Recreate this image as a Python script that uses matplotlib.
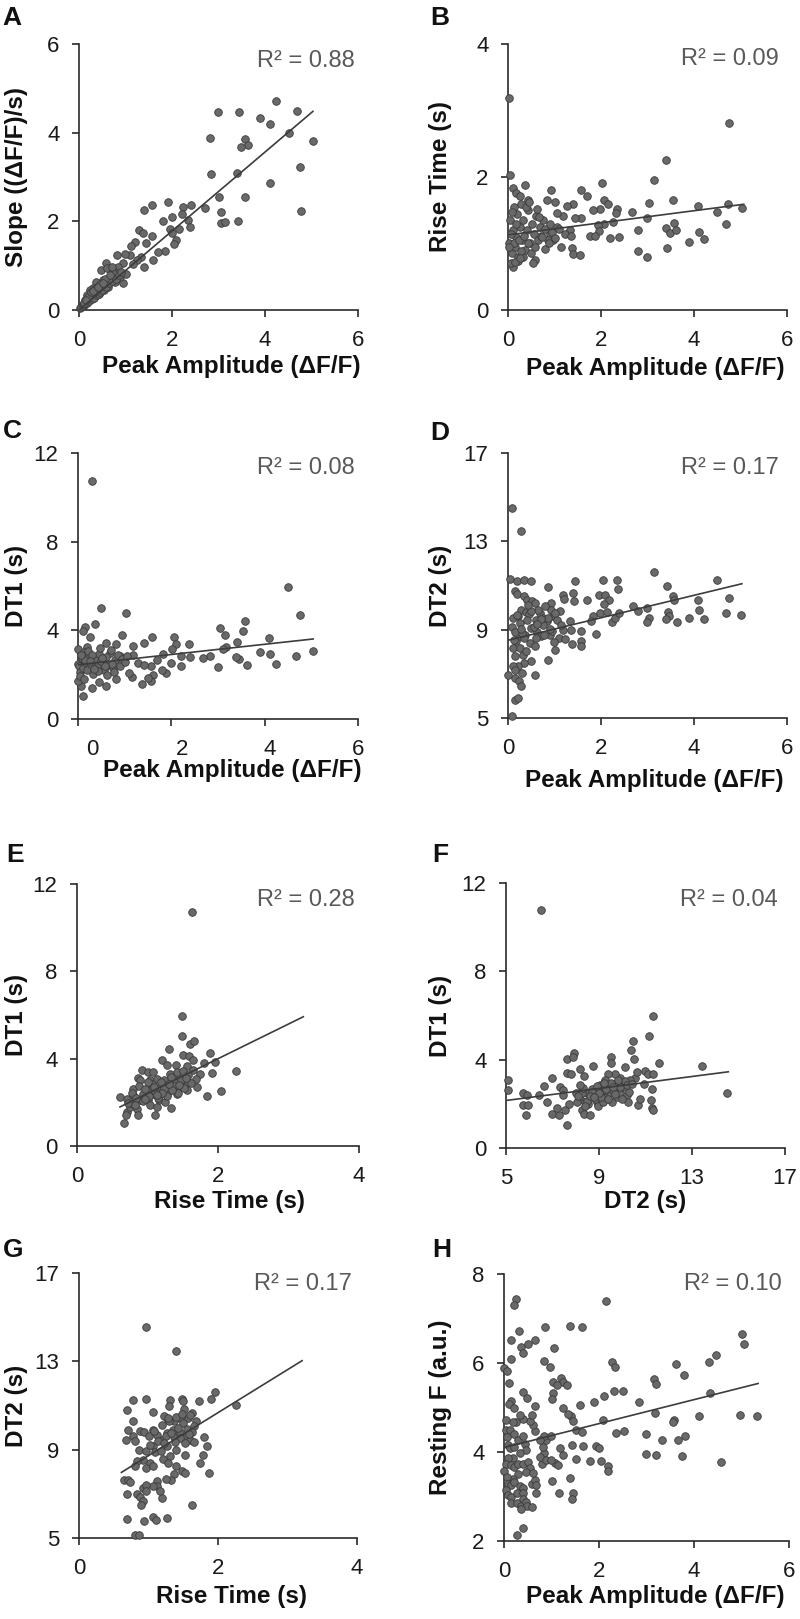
import matplotlib
matplotlib.use("Agg")
import matplotlib.pyplot as plt

plt.rcParams["font.family"] = ["Liberation Sans", "DejaVu Sans"]

# ---------------- data ----------------

# A: slope vs peak amplitude
a_amp = [2.99, 3.44, 4.23, 4.69, 3.90, 4.11, 4.51, 5.03, 2.81, 3.58,
         3.63, 3.48, 2.83, 3.40, 4.75, 4.10, 3.01, 3.56, 3.05, 3.05,
         3.15, 3.41, 4.77, 2.70, 2.40, 2.23, 1.91, 1.58, 1.39, 1.99,
         1.81, 2.22, 2.34, 2.38, 2.16, 1.95, 2.01, 2.09, 2.04, 1.84,
         1.70, 1.59, 1.58, 1.30, 1.37, 1.45, 1.20, 1.12, 1.34, 1.40,
         1.25, 1.16, 1.09, 0.98, 0.82, 0.95, 0.84, 1.02, 0.95, 0.59,
         0.48, 0.60, 0.73, 0.84, 0.66, 0.52, 0.44, 0.37, 0.30, 0.23,
         0.17, 0.12, 0.07, 0.03, 0.34, 0.44, 0.27, 0.16, 0.53, 0.62,
         0.77, 0.89, 0.79, 0.70,
         0.05, 0.08, 0.10, 0.13, 0.15, 0.18, 0.20, 0.22, 0.25, 0.28,
         0.30, 0.32, 0.35, 0.38, 0.40, 0.42, 0.45, 0.48, 0.50, 0.55,
         0.58, 0.62, 0.65, 0.68, 0.72, 0.75, 0.80, 0.85, 0.90,
         0.20, 0.26, 0.36, 0.46, 0.56, 0.66, 0.10, 0.14, 0.31, 0.41, 0.51]
a_slope = [4.47, 4.47, 4.71, 4.48, 4.33, 4.19, 3.99, 3.82, 3.88, 3.86,
           3.73, 3.67, 3.07, 3.09, 3.22, 2.86, 2.56, 2.54, 2.20, 1.96,
           1.99, 2.01, 2.24, 2.30, 2.36, 2.32, 2.43, 2.37, 2.26, 2.09,
           2.01, 2.16, 2.03, 1.88, 1.82, 1.82, 1.73, 1.58, 1.48, 1.34,
           1.30, 1.13, 1.68, 1.81, 1.73, 1.52, 1.54, 1.45, 1.20, 0.96,
           1.13, 1.04, 1.24, 1.27, 1.24, 1.05, 0.98, 0.81, 0.60, 1.07,
           0.90, 0.94, 0.87, 0.75, 0.72, 0.68, 0.56, 0.64, 0.49, 0.44,
           0.34, 0.23, 0.11, 0.04, 0.34, 0.38, 0.26, 0.19, 0.45, 0.53,
           0.64, 0.75, 0.83, 0.98,
           0.06, 0.08, 0.12, 0.14, 0.17, 0.16, 0.22, 0.20, 0.27, 0.24,
           0.32, 0.28, 0.38, 0.33, 0.45, 0.37, 0.40, 0.50, 0.46, 0.58,
           0.52, 0.66, 0.60, 0.74, 0.66, 0.82, 0.70, 0.80, 0.85,
           0.30, 0.40, 0.50, 0.58, 0.70, 0.80, 0.15, 0.22, 0.42, 0.52, 0.62]
a_fit_x = [0.0, 5.03]
a_fit_y = [0.0, 4.48]

# B: rise time vs peak amplitude
b_amp = [0.02, 0.04, 4.76, 3.40, 3.14, 2.03, 1.58, 1.70, 0.93, 0.36,
         0.11, 0.18, 0.25, 0.43, 0.83, 1.00, 1.40, 1.26, 2.06, 2.15,
         1.98, 1.83, 2.35, 2.32, 2.67, 3.03, 3.54, 4.09, 4.49, 4.74,
         5.03, 2.99, 3.57, 3.39, 3.48, 3.62, 2.80, 4.10, 4.21, 3.89,
         4.68, 3.43, 2.80, 2.98, 2.26, 2.06, 1.94, 1.96, 1.77, 1.88,
         2.20, 2.38, 1.58, 1.44, 1.19, 1.06, 1.33, 1.22, 1.35, 1.37,
         1.39, 1.55, 1.13, 0.97, 0.90, 0.80, 0.57, 0.54, 0.11, 0.07,
         0.22, 0.32,
         0.03, 0.05, 0.08, 0.10, 0.12, 0.15, 0.18, 0.20, 0.22, 0.25,
         0.28, 0.30, 0.33, 0.36, 0.40, 0.44, 0.48, 0.52, 0.56, 0.60,
         0.64, 0.68, 0.72, 0.76, 0.80, 0.85, 0.90, 0.95, 1.00, 1.05,
         0.06, 0.12, 0.17, 0.23, 0.28, 0.34, 0.42, 0.50, 0.58, 0.66,
         0.14, 0.26, 0.38, 0.46, 0.62, 0.74, 0.88, 1.10, 0.02, 0.09]
b_rise = [3.19, 2.03, 2.81, 2.25, 1.96, 1.91, 1.81, 1.71, 1.80, 1.88,
          1.84, 1.76, 1.71, 1.66, 1.66, 1.63, 1.60, 1.56, 1.66, 1.60,
          1.52, 1.50, 1.52, 1.46, 1.48, 1.61, 1.65, 1.56, 1.48, 1.60,
          1.53, 1.38, 1.31, 1.23, 1.16, 1.20, 1.21, 1.18, 1.07, 1.03,
          1.30, 0.93, 0.89, 0.80, 1.33, 1.30, 1.28, 1.19, 1.11, 1.11,
          1.09, 1.10, 1.38, 1.38, 1.41, 1.46, 1.20, 1.15, 1.11, 0.93,
          0.84, 0.83, 0.94, 1.05, 1.15, 0.91, 0.75, 0.70, 0.65, 0.70,
          0.73, 0.80,
          1.00, 1.35, 0.85, 1.20, 1.55, 0.95, 1.10, 1.45, 0.80, 1.25,
          1.60, 1.05, 1.35, 0.90, 1.20, 1.50, 1.00, 1.30, 1.15, 1.42,
          1.05, 1.25, 1.12, 1.35, 1.22, 1.05, 1.30, 1.18, 1.08, 1.25,
          1.15, 1.00, 1.30, 1.05, 0.88, 1.12, 1.00, 0.85, 0.95, 1.40,
          0.72, 0.78, 1.55, 1.62, 1.52, 1.10, 1.00, 1.22, 0.95, 1.48]
b_fit_x = [0.0, 5.07]
b_fit_y = [1.13, 1.59]

# C: DT1 vs peak amplitude
c_amp = [0.29, 4.50, 4.75, 0.50, 1.02, 0.37, 0.14, 0.11, 3.57, 3.54,
         3.04, 3.14, 0.95, 1.59, 2.06, 4.09, 0.25, 0.61, 1.41, 2.37,
         3.41, 2.09, 2.01, 3.18, 3.11, 1.18, 0.82, 0.01, 0.19, 3.89,
         4.11, 5.04, 4.68, 3.46, 3.39, 2.82, 2.68, 2.41, 2.21, 1.82,
         2.00, 1.70, 2.21, 3.00, 3.62, 4.24, 1.89, 1.79, 1.57, 1.61,
         1.57, 1.38, 1.49, 1.16, 1.09, 0.81, 0.59, 0.46, 0.29, 0.11,
         0.07, 0.01, 0.01, 1.29, 1.41, 1.18, 0.68, 0.89,
         0.02, 0.05, 0.08, 0.10, 0.13, 0.16, 0.20, 0.24, 0.28, 0.32,
         0.36, 0.40, 0.45, 0.50, 0.55, 0.60, 0.65, 0.70, 0.75, 0.80,
         0.85, 0.90, 0.95, 1.00, 1.05, 0.04, 0.12, 0.22, 0.30, 0.42,
         0.52, 0.62, 0.72, 0.15, 0.35, 0.48, 0.58, 0.78, 0.06, 0.26]
c_dt1 = [10.72, 5.95, 4.71, 5.01, 4.78, 4.29, 4.14, 3.95, 4.41, 3.98,
         4.09, 3.80, 3.80, 3.68, 3.68, 3.65, 3.70, 3.43, 3.43, 3.38,
         3.46, 3.38, 3.16, 3.25, 3.16, 3.31, 3.38, 3.16, 3.25, 3.01,
         2.95, 3.05, 2.83, 2.71, 2.78, 2.86, 2.75, 2.80, 2.83, 2.95,
         2.53, 2.68, 2.38, 2.33, 2.45, 2.48, 2.08, 2.23, 2.41, 2.00,
         1.73, 1.58, 1.85, 1.88, 2.08, 1.80, 1.50, 1.65, 1.40, 1.05,
         1.50, 1.73, 2.50, 2.53, 2.45, 2.90, 2.98, 2.86,
         2.40, 2.10, 2.75, 2.30, 3.00, 2.55, 2.20, 2.85, 2.50, 2.05,
         2.70, 2.35, 2.95, 2.60, 2.20, 2.80, 2.45, 3.10, 2.30, 2.65,
         2.90, 2.40, 2.70, 2.55, 2.85, 1.95, 1.80, 3.05, 2.90, 2.15,
         2.75, 2.00, 2.50, 2.65, 2.25, 3.20, 2.40, 2.10, 2.90, 2.60]
c_fit_x = [0.0, 5.04]
c_fit_y = [2.45, 3.61]

# D: DT2 vs peak amplitude
d_amp = [0.09, 0.27, 0.04, 0.19, 0.34, 0.49, 0.14, 0.19, 0.34, 0.41,
         0.52, 0.57, 0.27, 0.38, 0.11, 0.22, 0.09, 0.86, 1.44, 1.39,
         1.42, 1.19, 1.20, 1.11, 0.93, 0.93, 0.97, 0.68, 0.75, 0.83,
         0.61, 0.50, 0.63, 0.72, 0.90, 1.10, 1.22, 1.19, 1.33, 1.36,
         1.58, 1.57, 1.38, 1.57, 1.90, 1.70, 1.82, 1.78, 1.98, 1.96,
         2.05, 2.08, 2.17, 2.06, 2.13, 2.23, 2.30, 2.39, 2.35, 2.37,
         2.68, 2.80, 2.99, 3.04, 2.99, 3.14, 3.41, 3.54, 3.57, 3.45,
         3.47, 3.40, 3.63, 3.89, 4.08, 4.11, 4.22, 4.49, 4.76, 4.68,
         5.01,
         0.11, 0.18, 0.25, 0.16, 0.32, 0.39, 0.50, 0.34, 0.22, 0.11,
         0.14, 0.31, 0.00, 0.16, 0.23, 0.29, 0.57, 0.85, 1.01, 0.14,
         0.22, 0.09, 0.47, 0.57, 0.36, 0.25,
         0.15, 0.25, 0.35, 0.45, 0.55, 0.65, 0.75, 0.85, 0.95, 1.05,
         0.20, 0.30, 0.40, 0.50, 0.60, 0.70, 0.80, 0.90, 1.00, 1.15,
         0.12, 0.28, 0.44, 0.62, 0.78, 0.98]
d_dt2 = [14.51, 13.45, 11.31, 11.19, 11.26, 11.19, 10.74, 10.63, 10.51, 10.36,
         10.28, 10.21, 9.91, 9.80, 9.53, 9.60, 9.12, 10.93, 11.19, 10.66,
         10.28, 10.58, 10.39, 9.83, 10.21, 9.91, 9.60, 9.75, 9.53, 9.38,
         9.42, 9.08, 8.89, 8.70, 8.77, 8.62, 8.58, 9.00, 9.38, 9.00,
         8.92, 8.50, 8.35, 8.28, 8.80, 10.36, 9.63, 9.38, 9.75, 10.55,
         11.26, 10.59, 10.33, 10.17, 9.81, 9.35, 9.53, 9.75, 11.23, 10.84,
         10.06, 9.83, 9.98, 9.53, 9.33, 11.60, 10.99, 10.51, 10.33, 9.78,
         9.63, 9.48, 9.33, 9.53, 10.36, 9.91, 9.50, 11.26, 10.43, 9.75,
         9.65,
         8.17, 8.47, 8.17, 7.79, 7.87, 8.02, 7.57, 7.49, 7.34, 7.34,
         7.19, 7.04, 6.96, 6.81, 6.66, 6.46, 6.96, 7.61, 8.06, 5.83,
         5.91, 5.11, 8.40, 8.25, 8.77, 8.70,
         8.90, 9.30, 8.60, 9.70, 9.10, 9.90, 9.20, 9.55, 8.95, 9.45,
         9.65, 8.85, 9.45, 9.85, 8.60, 9.50, 10.05, 9.05, 9.75, 9.20,
         8.55, 9.05, 10.10, 9.25, 8.75, 8.45]
d_fit_x = [0.0, 5.03]
d_fit_y = [8.52, 11.08]

# E: DT1 vs rise time
e_rise = [1.63, 1.49, 1.49, 1.60, 1.66, 1.31, 1.51, 1.59, 1.65, 1.88,
          1.96, 1.80, 2.26, 1.91, 1.84, 2.04, 1.20, 1.27, 1.40, 1.56,
          0.92, 1.01, 1.08, 0.86, 0.90, 1.75, 1.70, 1.34, 1.10, 0.66,
          0.61, 0.71, 0.79, 0.80, 0.71, 0.70, 0.85, 0.87, 0.75, 1.01,
          1.08, 1.18, 1.27, 1.37, 1.46, 1.53, 1.56, 1.42, 1.27, 1.16,
          1.04, 0.99, 1.04, 1.13, 1.23, 1.32, 1.42, 1.50, 1.65, 1.69,
          1.58, 1.37, 1.46, 1.25, 0.94, 0.90, 1.13, 0.80,
          0.72, 0.78, 0.84, 0.88, 0.93, 0.97, 1.02, 1.06, 1.11, 1.15,
          1.19, 1.23, 1.28, 1.33, 1.38, 1.43, 1.48, 1.52, 1.57, 1.62,
          0.82, 0.96, 1.09, 1.21, 1.35, 1.45, 1.55, 1.00, 1.14, 1.30]
e_dt1 = [10.73, 5.95, 5.03, 4.69, 4.82, 4.42, 4.16, 4.11, 3.96, 4.28,
         3.85, 3.82, 3.44, 3.36, 2.29, 2.51, 3.96, 3.70, 3.70, 3.65,
         3.50, 3.39, 3.39, 3.12, 3.01, 3.29, 2.68, 1.76, 1.44, 1.06,
         2.25, 2.17, 2.63, 2.32, 1.56, 1.41, 1.71, 1.44, 1.79, 2.09,
         2.40, 2.68, 2.86, 3.01, 3.17, 2.86, 2.55, 2.40, 2.40, 2.09,
         1.87, 2.55, 3.01, 3.09, 3.01, 3.32, 3.39, 3.44, 3.50, 3.09,
         2.94, 2.71, 2.71, 2.02, 2.40, 2.09, 1.79, 1.94,
         1.95, 2.45, 2.20, 2.75, 2.05, 2.60, 2.30, 2.85, 2.50, 2.20,
         2.95, 2.60, 2.30, 3.15, 2.75, 2.45, 3.00, 2.65, 3.25, 2.90,
         1.90, 2.15, 2.70, 2.45, 2.55, 2.80, 3.10, 2.95, 2.35, 2.85]
e_fit_x = [0.61, 3.21]
e_fit_y = [1.79, 5.92]

# F: DT1 vs DT2
f_dt2 = [6.49, 11.31, 11.16, 10.48, 10.36, 10.52, 11.59, 13.42, 14.52, 7.61,
         7.93, 7.90, 8.76, 9.50, 9.50, 8.18, 8.37, 7.61, 7.78, 5.10,
         5.10, 6.63, 6.96, 6.43, 5.72, 5.89, 5.75, 5.96, 5.85, 6.78,
         6.96, 7.29, 7.64, 7.18, 7.54, 7.32, 7.44, 7.46, 7.71, 8.25,
         8.18, 8.28, 8.36, 8.61, 8.54, 8.76, 8.90, 8.97, 9.16, 9.33,
         9.47, 9.62, 9.55, 9.76, 9.90, 10.05, 10.19, 10.23, 10.66, 10.76,
         10.93, 10.98, 11.12, 11.31, 11.22, 11.26, 11.31, 11.29, 10.55, 10.63,
         10.33, 10.11, 9.90, 9.69, 9.40, 9.26, 9.04, 8.68, 8.47, 8.01,
         8.04, 8.40, 8.83, 8.25, 9.09, 9.26, 9.62, 9.83,
         8.10, 8.30, 8.50, 8.70, 8.90, 9.10, 9.30, 9.50, 9.70, 9.90,
         10.10, 10.30, 8.20, 8.60, 9.00, 9.40, 9.80, 10.20, 8.40, 8.80,
         9.20, 9.60, 10.00, 10.40]
f_dt1 = [10.79, 5.98, 5.07, 4.86, 4.46, 4.01, 3.86, 3.72, 2.51, 4.01,
         4.31, 4.13, 3.72, 4.13, 3.83, 3.56, 3.28, 3.40, 3.34, 3.10,
         2.62, 2.83, 3.19, 2.39, 2.47, 2.39, 1.94, 1.94, 1.48, 2.09,
         1.53, 1.48, 1.03, 1.79, 1.74, 2.77, 2.62, 2.39, 1.98, 2.62,
         2.24, 1.71, 1.56, 1.48, 2.01, 2.47, 2.09, 1.89, 2.09, 2.31,
         2.47, 2.62, 2.09, 2.31, 2.50, 2.77, 2.39, 2.09, 1.94, 2.24,
         2.89, 3.48, 3.34, 3.34, 2.19, 1.83, 1.74, 2.69, 3.15, 3.45,
         3.07, 3.68, 3.15, 3.37, 3.37, 3.10, 2.84, 2.69, 2.47, 2.47,
         2.09, 2.09, 2.24, 2.47, 2.54, 2.62, 2.92, 2.84,
         2.35, 2.70, 2.15, 2.55, 2.80, 2.30, 2.65, 2.95, 2.45, 2.75,
         3.05, 2.55, 2.85, 2.35, 2.50, 2.20, 3.10, 2.85, 1.90, 2.30,
         2.95, 2.75, 2.20, 2.90]
f_fit_x = [5.06, 14.56]
f_fit_y = [2.16, 3.45]

# G: DT2 vs rise time
g_rise = [0.97, 1.40, 1.95, 1.90, 2.26, 1.72, 0.77, 0.96, 1.31, 1.48,
          1.49, 1.30, 1.51, 0.69, 1.06, 0.77, 1.22, 1.28, 1.36, 1.45,
          1.57, 1.69, 1.62, 0.88, 0.94, 0.78, 0.68, 0.80, 1.07, 1.00,
          1.12, 1.19, 1.26, 1.36, 1.45, 1.55, 1.60, 1.65, 1.80, 1.84,
          1.79, 1.74, 1.87, 1.53, 1.40, 1.26, 1.31, 1.21, 1.28, 1.40,
          1.48, 1.52, 1.36, 1.33, 1.25, 1.12, 1.12, 1.07, 1.16, 1.20,
          1.02, 0.97, 1.07, 0.92, 0.83, 0.80, 0.87, 0.97, 1.07, 0.65,
          0.71, 0.74, 0.69, 0.84, 0.92, 0.97, 0.96, 0.88, 0.92, 0.89,
          0.69, 0.93, 1.06, 1.11, 1.26, 1.63, 0.80, 0.87, 0.71,
          1.02, 1.08, 1.14, 1.20, 1.25, 1.30, 1.35, 1.40, 1.45, 1.50,
          1.55, 1.60, 1.65, 1.10, 1.22, 1.33, 1.43, 1.53, 1.63, 1.18,
          1.28, 1.38, 1.48, 1.58]
g_dt2 = [14.54, 13.48, 11.61, 11.31, 11.01, 11.19, 11.26, 11.31, 11.26, 11.31,
         11.19, 10.96, 10.84, 10.78, 10.72, 10.28, 10.51, 10.36, 10.28, 10.43,
         10.43, 10.28, 10.66, 9.86, 9.78, 9.63, 9.45, 9.38, 9.90, 9.60,
         9.68, 9.45, 9.75, 9.57, 9.75, 9.60, 9.45, 9.35, 9.57, 9.18,
         8.77, 8.40, 7.94, 8.77, 9.00, 9.15, 8.73, 8.58, 8.40, 8.25,
         8.02, 7.94, 7.91, 7.64, 7.67, 7.57, 7.34, 7.37, 7.11, 6.81,
         8.40, 8.17, 8.25, 8.55, 8.47, 8.25, 9.00, 8.92, 9.15, 7.64,
         7.64, 7.52, 6.99, 7.01, 7.26, 7.41, 7.11, 6.84, 6.66, 6.51,
         5.88, 5.76, 5.95, 5.83, 5.91, 6.51, 5.12, 5.12, 9.90,
         9.20, 9.85, 9.40, 10.10, 9.60, 10.30, 9.90, 10.50, 9.55, 10.20,
         9.95, 10.55, 10.05, 8.90, 9.30, 9.75, 10.00, 9.30, 9.80, 8.95,
         10.45, 9.35, 10.60, 9.70]
g_fit_x = [0.61, 3.21]
g_fit_y = [7.97, 13.03]

# H: resting F vs peak amplitude
h_amp = [0.26, 0.22, 2.15, 1.38, 1.65, 0.87, 0.31, 0.14, 0.36, 0.51,
         0.65, 0.41, 1.05, 0.14, 0.84, 0.96, 0.00, 0.07, 0.11, 2.28,
         2.33, 5.02, 5.05, 4.47, 4.32, 3.63, 3.79, 3.15, 3.21, 1.03,
         1.19, 1.25, 1.32, 1.12, 1.04, 1.01, 0.39, 0.49, 0.65, 0.15,
         0.11, 0.22, 1.24, 1.61, 1.89, 2.10, 2.32, 2.50, 2.84, 4.34,
         4.96, 5.33, 4.11, 3.17, 3.57, 3.56, 2.09, 1.42, 1.35, 1.45,
         1.52, 1.65, 2.36, 2.52, 2.98, 3.82, 3.66, 3.33, 2.98, 3.21,
         3.74, 4.57, 1.43, 1.66, 1.93, 2.01, 2.04, 1.80, 1.52, 1.24,
         1.17, 1.07, 1.14, 2.19, 2.19, 1.38, 1.00, 1.16, 1.45, 1.43,
         0.84, 0.81, 0.75, 0.89, 0.99, 0.82, 0.89, 0.84, 0.99, 0.75,
         0.65, 0.60, 0.54, 0.58, 0.40, 0.33, 0.26, 0.19, 0.05, 0.05,
         0.12, 0.06, 0.08, 0.12, 0.22, 0.29, 0.22, 0.40, 0.44, 0.46,
         0.34, 0.19, 0.08, 0.04, 0.01, 0.15, 0.22, 0.29, 0.39, 0.51,
         0.55, 0.47, 0.29, 0.19, 0.06, 0.08, 0.15, 0.22, 0.33, 0.41,
         0.58, 0.65, 0.61, 0.68, 0.67, 0.05, 0.08, 0.15, 0.27, 0.39,
         0.40, 0.14, 0.27, 0.36, 0.46, 0.48, 0.58, 0.36, 0.40, 0.28]
h_rest = [7.44, 7.31, 7.39, 6.84, 6.80, 6.80, 6.72, 6.52, 6.37, 6.43,
          6.52, 6.22, 6.34, 6.10, 6.04, 5.92, 5.88, 5.82, 5.54, 6.02,
          5.92, 6.65, 6.43, 6.19, 6.02, 5.98, 5.72, 5.64, 5.52, 5.57,
          5.66, 5.57, 5.51, 5.50, 5.32, 5.20, 5.34, 5.22, 5.03, 5.15,
          5.08, 5.00, 5.00, 5.05, 5.13, 5.26, 5.38, 5.38, 5.12, 5.32,
          4.84, 4.80, 4.81, 4.87, 4.73, 4.68, 4.73, 4.81, 4.85, 4.70,
          4.49, 4.44, 4.43, 4.47, 4.40, 4.37, 4.27, 4.28, 3.95, 3.94,
          3.91, 3.78, 4.15, 4.13, 4.13, 4.08, 3.79, 3.79, 3.85, 3.93,
          4.08, 3.76, 3.70, 3.69, 3.58, 3.42, 3.35, 3.08, 3.08, 2.95,
          3.98, 3.74, 3.89, 3.81, 3.81, 4.11, 4.26, 4.37, 4.37, 4.26,
          4.48, 4.60, 4.70, 4.83, 4.75, 4.83, 4.68, 4.68, 4.72, 4.49,
          4.49, 4.34, 4.15, 4.08, 4.41, 4.26, 4.11, 4.37, 4.19, 4.05,
          3.97, 3.87, 3.87, 3.74, 3.58, 3.70, 3.67, 3.74, 3.73, 3.78,
          3.65, 3.55, 3.51, 3.40, 3.44, 3.27, 3.25, 3.33, 3.23, 3.20,
          3.29, 3.37, 3.52, 3.26, 3.07, 3.14, 3.03, 2.99, 3.07, 3.08,
          2.95, 2.86, 2.86, 2.78, 2.88, 2.78, 2.77, 2.71, 2.30, 2.14]
h_fit_x = [0.0, 5.35]
h_fit_y = [4.10, 5.54]

r2_labels = ["0.88", "0.09", "0.08", "0.17", "0.28", "0.04", "0.17", "0.10"]
amp_label = "Peak Amplitude (\u0394F/F)"

# ---------------- layout ----------------
W, H = 800, 1619

# letter, x, y, fit x, fit y, xlabel, ylabel, xlim, xticks, ylim, yticks,
# axes box in pixels (left, top, right, bottom), xlabel anchor, R2 anchor,
# letter anchor in pixels (left, baseline)
paneles = [
    ("A", a_amp, a_slope, a_fit_x, a_fit_y, amp_label, "Slope ((\u0394F/F)/s)",
     (0, 6), [0, 2, 4, 6], (0, 6), [0, 2, 4, 6], (79, 44, 358, 310),
     (0.545, -0.169), (0.99, 0.915), (2, 25)),
    ("B", b_amp, b_rise, b_fit_x, b_fit_y, amp_label, "Rise Time (s)",
     (0, 6), [0, 2, 4, 6], (0, 4), [0, 2, 4], (508, 44, 787, 310),
     (0.527, -0.177), (0.97, 0.92), (430, 25)),
    ("C", c_amp, c_dt1, c_fit_x, c_fit_y, amp_label, "DT1 (s)",
     (0, 6), [0, 2, 4, 6], (0, 12), [0, 4, 8, 12], (78, 453, 358, 719),
     (0.55, -0.15), (0.99, 0.92), (3, 438)),
    ("D", d_amp, d_dt2, d_fit_x, d_fit_y, amp_label, "DT2 (s)",
     (0, 6), [0, 2, 4, 6], (5, 17), [5, 9, 13, 17], (508, 453, 787, 718),
     (0.524, -0.192), (0.97, 0.92), (430, 440)),
    ("E", e_rise, e_dt1, e_fit_x, e_fit_y, "Rise Time (s)", "DT1 (s)",
     (0, 4), [0, 2, 4], (0, 12), [0, 4, 8, 12], (77, 884, 359, 1146),
     (0.54, -0.168), (0.985, 0.915), (6, 862)),
    ("F", f_dt2, f_dt1, f_fit_x, f_fit_y, "DT2 (s)", "DT1 (s)",
     (5, 17), [5, 9, 13, 17], (0, 12), [0, 4, 8, 12], (506, 883, 785, 1148),
     (0.50, -0.158), (0.975, 0.915), (432, 862)),
    ("G", g_rise, g_dt2, g_fit_x, g_fit_y, "Rise Time (s)", "DT2 (s)",
     (0, 4), [0, 2, 4], (5, 17), [5, 9, 13, 17], (79, 1273, 357, 1538),
     (0.55, -0.177), (0.98, 0.935), (3, 1257)),
    ("H", h_amp, h_rest, h_fit_x, h_fit_y, amp_label, "Resting F (a.u.)",
     (0, 6), [0, 2, 4, 6], (2, 8), [2, 4, 6, 8], (504, 1274, 789, 1541),
     (0.53, -0.165), (0.975, 0.94), (432, 1257)),
]

# panel C has its x tick numbers drawn a little right of the ticks (pixels)
c_label_shift = [14, 11, 5, 0]

AXIS_COLOR = "#2a2a2a"
POINT_FACE = "#696969"
POINT_EDGE = "#3a3a3a"
TICK_SIZE = 16
LABEL_SIZE = 17.5
TICK_LEN = 5
TICK_PAD_X = 9.5

fig = plt.figure(figsize=(W / 100, H / 100), dpi=100)
fig.patch.set_facecolor("white")

for i, (letra, xs, ys, fx, fy, xlab, ylab, xlim, xticks, ylim, yticks,
        caja, xlab_pos, r2_pos, letra_pos) in enumerate(paneles):
    left, top, right, bottom = caja
    ancho = right - left
    ax = fig.add_axes([left / W, 1 - bottom / H, ancho / W, (bottom - top) / H])

    ax.scatter(xs, ys, s=30, facecolor=POINT_FACE, edgecolor=POINT_EDGE,
               linewidth=0.6, zorder=3, clip_on=False)
    ax.plot(fx, fy, color="#3c3c3c", lw=1.2, zorder=4)

    ax.set_xlim(*xlim)
    ax.set_ylim(*ylim)
    ax.set_xticks(xticks)
    ax.set_yticks(yticks)

    for lado in ("top", "right"):
        ax.spines[lado].set_visible(False)
    for lado in ("left", "bottom"):
        ax.spines[lado].set_color(AXIS_COLOR)
        ax.spines[lado].set_linewidth(1.2)

    ax.tick_params(axis="both", direction="out", length=TICK_LEN, width=1.2,
                   color=AXIS_COLOR, labelsize=TICK_SIZE, labelcolor="#1a1a1a")
    ax.tick_params(axis="x", pad=TICK_PAD_X)
    ax.tick_params(axis="y", pad=9)

    if letra == "C":
        # the numbers sit a little to the right of their tick marks here
        ax.tick_params(axis="x", labelbottom=False)
        for t, dx in zip(xticks, c_label_shift):
            ax.annotate(str(t), xy=(t, 0), xycoords=("data", "axes fraction"),
                        xytext=(dx * 0.72, -(TICK_LEN + TICK_PAD_X)),
                        textcoords="offset points", ha="center", va="top",
                        fontsize=TICK_SIZE, color="#1a1a1a", annotation_clip=False)

    ax.set_xlabel(xlab, fontsize=LABEL_SIZE, fontweight="bold", color="#111111")
    ax.set_ylabel(ylab, fontsize=LABEL_SIZE, fontweight="bold", color="#111111")
    ax.xaxis.set_label_coords(*xlab_pos)
    ax.xaxis.label.set_va("top")
    # right edge of the rotated label at a fixed pixel column
    borde = 28 if left < 400 else 452
    ax.yaxis.set_label_coords((borde - left) / ancho, 0.5)

    ax.text(r2_pos[0], r2_pos[1], "R\u00b2 = " + r2_labels[i], transform=ax.transAxes,
            ha="right", va="baseline", fontsize=17, color="#595959")

    fig.text(letra_pos[0] / W, 1 - letra_pos[1] / H, letra, fontsize=19,
             fontweight="bold", ha="left", va="baseline", color="#111111")

fig.savefig("out.png", dpi=100, facecolor="white")
